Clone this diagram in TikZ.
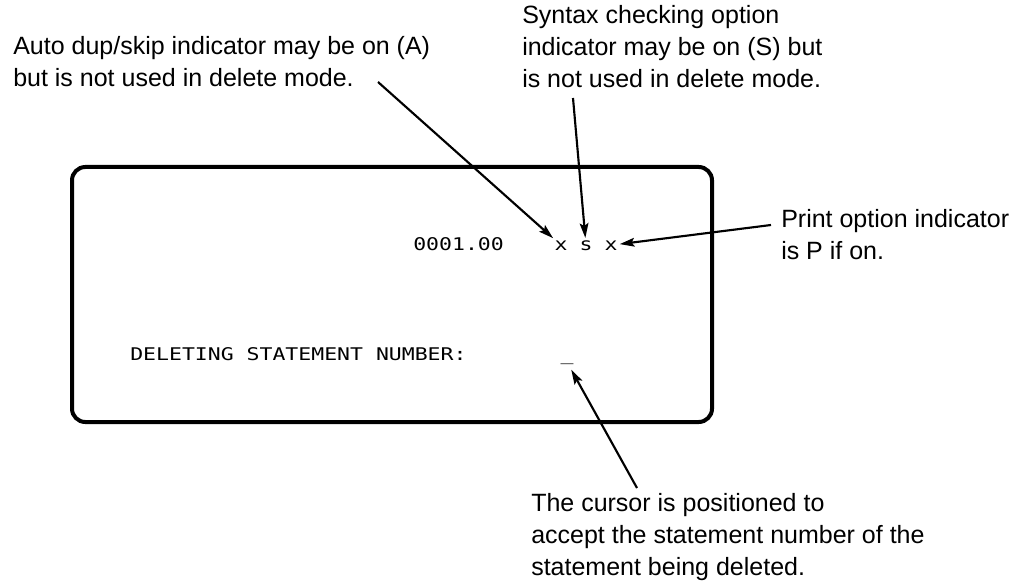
\documentclass[tikz,border=0pt]{standalone}
\usepackage{fontspec}
\setmainfont{Liberation Sans}
\newfontfamily\scrfont[FakeStretch=1.23]{DejaVu Sans Mono}
\usetikzlibrary{arrows.meta}
\begin{document}
\begin{tikzpicture}[x=0.75pt,y=-0.75pt,
  note/.style={font=\fontsize{18.75}{24}\selectfont, inner sep=0pt, anchor=base west, align=left},
  scr/.style={font=\scrfont\fontsize{13.1}{16}\selectfont, inner sep=0pt},
  tgt/.style={scr, inner sep=1.5pt, anchor=base},
  arr/.style={line width=1.6pt, -{Stealth[length=11pt,width=6.5pt,inset=2pt]}},
  screenbox/.style={draw, line width=3pt, rounded corners=10pt, minimum width=480pt, minimum height=191.25pt, anchor=north west, inner sep=0pt}]
\useasboundingbox (0,0) rectangle (1033,585);
% screen
\node[screenbox] (screen) at (70,165) {};
% screen contents
\node[scr, anchor=base west] (num) at (413,250) {0001.00};
\node[tgt] (xa) at (561,250) {x};
\node[tgt] (sb) at (586,250) {s};
\node[tgt] (xc) at (611,250) {x};
\node[scr, anchor=base west] (del) at (130,360) {DELETING STATEMENT NUMBER:};
\node[scr, anchor=base, inner sep=4pt] (cur) at (567,360) {\_};
% annotations
\node[note] (autotxt) at (13,87) {Auto dup/skip indicator may be on (A)\\but is not used in delete mode.};
\node[note] (syntxt) at (522,88) {Syntax checking option\\indicator may be on (S) but\\is not used in delete mode.};
\node[note] (prttxt) at (781,259) {Print option indicator\\is P if on.};
\node[note] (curtxt) at (531,575) {The cursor is positioned to\\accept the statement number of the\\statement being deleted.};
% arrow start points
\coordinate (autoend) at (378,82);
\coordinate (synend) at (573,98);
\coordinate (prtend) at (771,225);
\coordinate (curend) at (637,488);
% arrows
\draw[arr] (autoend) -- (xa);
\draw[arr] (synend) -- (sb);
\draw[arr] (prtend) -- (xc);
\draw[arr] (curend) -- (cur);
\end{tikzpicture}
\end{document}
